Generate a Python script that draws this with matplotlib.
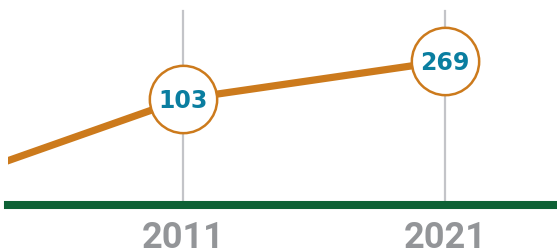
import matplotlib.pyplot as plt
import matplotlib.transforms as mtransforms

# data
years = [2001, 2011, 2021]
values = [10, 103, 269]
label_years = [2011, 2021]
label_values = [103, 269]
tick_labels = ["2011", "2021"]

orange = "#cc7a1c"
blue = "#0a7ea0"
green = "#0d6135"
grid_gray = "#c3c4c8"
text_gray = "#939598"

fig = plt.figure(figsize=(5.57, 2.52), dpi=100)
# axes spans from the left end of the baseline to the right edge, top to baseline
ax = fig.add_axes([8 / 557, 1 - 205 / 252, 1 - 8 / 557, 205 / 252])
ax.set_yscale("log")
ax.set_xlim(2004.32, 2025.27)
ax.set_ylim(7.08, 1257)
ax.axis("off")

# vertical guides
for yr in label_years:
    ax.axvline(yr, ymin=0, ymax=(205 - 11) / 205, color=grid_gray, lw=1.6, zorder=1)

# trend line
ax.plot(years, values, color=orange, lw=5.2, solid_capstyle="butt", zorder=2)

# markers with values
ax.scatter(label_years, label_values, s=2350, facecolor="white",
           edgecolor=orange, linewidth=1.8, zorder=3)
for yr, v in zip(label_years, label_values):
    ax.annotate(str(v), (yr, v), xytext=(0, -6.2), textcoords="offset points",
                ha="center", va="baseline", fontsize=17, fontweight="bold",
                color=blue, zorder=4)

# baseline
ax.axhline(7.08, color=green, lw=5.8, clip_on=False, zorder=2)

# year labels
trans = mtransforms.blended_transform_factory(ax.transData, ax.transAxes)
for yr, lab in zip(label_years, tick_labels):
    ax.text(yr, -43 / 205, lab, transform=trans, ha="center", va="baseline",
            fontsize=26, fontweight="bold", color=text_gray, family="Roboto")

fig.savefig("out.png", dpi=100)
